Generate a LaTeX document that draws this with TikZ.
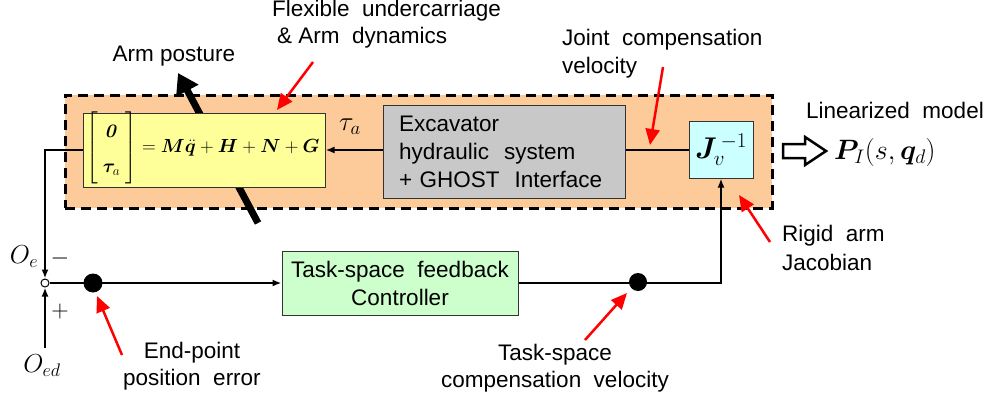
\RequirePackage{fix-cm}
\documentclass[tikz,border=0pt]{standalone}
\usepackage{amsmath,bm}
\usepackage[no-math]{fontspec}
\setmainfont{Liberation Sans}
\usetikzlibrary{arrows.meta}
\definecolor{orangebg}{RGB}{253,203,153}
\definecolor{yellowbg}{RGB}{255,255,153}
\definecolor{graybg}{RGB}{200,200,200}
\definecolor{cyanbg}{RGB}{204,255,255}
\definecolor{greenbg}{RGB}{204,255,204}
\definecolor{redarr}{RGB}{255,0,0}
\tikzset{
  blk/.style={draw=black!80, line width=1pt, inner sep=0pt},
  conn/.style={line width=2pt, draw=black},
  tip/.style={-{Latex[length=9pt,width=7pt]}},
  redarrow/.style={draw=redarr, line width=2.5pt, -{Triangle[length=16pt,width=14pt]}},
  lbl/.style={inner sep=0pt, font=\fontsize{22.5}{29}\selectfont},
  dot/.style={circle, fill=black, inner sep=0pt, minimum size=19pt}
}
\begin{document}
\begin{tikzpicture}[x=1pt,y=-1pt]
\useasboundingbox (0,0) rectangle (990,404);
\fill[white] (0,0) rectangle (990,404);

% outer dashed region
\node[fill=orangebg, draw=black, line width=3pt, dash pattern=on 10pt off 6pt,
      minimum width=707pt, minimum height=113pt, inner sep=0pt] (outer) at (418.5,151.5) {};

% thick arm posture arrow (behind yellow box)
\coordinate (postlow) at (258,223);
\coordinate (posttip) at (178,73);
\draw[line width=7pt, -{Triangle[length=20pt,width=24pt]}] (postlow) -- (posttip);

% blocks
\node[blk, fill=yellowbg, minimum width=242pt, minimum height=74pt] (yellow) at (204,150) {};
\node[inner sep=0pt, font=\fontsize{19}{23}\selectfont] (eq) at (203,148)
  {$\renewcommand{\arraystretch}{1.5}\left[\begin{array}{c}\bm{\mathit{0}}\\ \bm{\tau}_{a}\end{array}\right]=\bm{M}\ddot{\bm{q}}+\bm{H}+\bm{N}+\bm{G}$};
\node[blk, fill=graybg, minimum width=242pt, minimum height=93pt, text width=210pt, align=left,
      inner xsep=16pt, font=\fontsize{22.5}{28}\selectfont] (gray) at (504,151.5)
  {Excavator\\hydraulic\ \ system\\+ GHOST\ \ Interface};
\node[blk, fill=cyanbg, minimum width=64pt, minimum height=57pt, font=\fontsize{30}{34}\selectfont] (cyan) at (721,149.5)
  {$\bm{J}_{v}^{\,-1}$};
\node[blk, fill=greenbg, minimum width=236pt, minimum height=64pt, align=center,
      font=\fontsize{22.5}{28}\selectfont] (green) at (400,283)
  {Task-space\ \ feedback\\Controller};

% junction and dots
\node[circle, draw=black, fill=white, line width=1pt, inner sep=0pt, minimum size=8pt] (sum) at (45,283) {};
\node[dot] (dot1) at (93,283) {};
\node[dot, minimum size=18pt] (dot2) at (638,282) {};
\coordinate (oedin) at (45,348);

% connectors
\draw[conn, tip] (gray.west |- yellow.east) -- (yellow.east);
\draw[conn] (gray.east |- cyan.west) -- (cyan.west);
\draw[conn, tip] (yellow.west) -| (sum.north);
\draw[conn, tip] (oedin) -- (sum.south);
\draw[conn, tip] (sum.east) -- (green.west);
\draw[conn, tip] (green.east) -| (cyan.south);

% hollow arrow
\draw[line width=2.5pt, fill=white, line join=miter] (783,144) -- (805,144) -- (805,137) -- (826,151) -- (805,165) -- (805,158) -- (783,158) -- cycle;

% math labels
\node[lbl, font=\fontsize{27}{30}\selectfont] (taua) at (350,127) {$\tau_a$};
\node[lbl, font=\fontsize{26}{30}\selectfont] (oe) at (24,257) {$O_e$};
\node[lbl, font=\fontsize{24}{30}\selectfont] (minus) at (60,258) {$-$};
\node[lbl, font=\fontsize{24}{30}\selectfont] (plus) at (60,311) {$+$};
\node[lbl, font=\fontsize{26}{30}\selectfont] (oed) at (42,366) {$O_{ed}$};
\node[lbl, anchor=west, font=\fontsize{28}{32}\selectfont] (pmodel) at (834,152) {$\bm{P}_{I}(s,\bm{q}_{d})$};

% text labels
\node[lbl] (armpost) at (174,56) {Arm\ posture};
\node[lbl, anchor=west, align=left, font=\fontsize{22.5}{27}\selectfont] (flex) at (272,24.5)
  {Flexible\ \ undercarriage\\\hspace{5pt}\& Arm\ \ dynamics};
\node[lbl, anchor=west, align=left, font=\fontsize{22.5}{28}\selectfont] (joint) at (562,54) {Joint\ \ compensation\\velocity};
\node[lbl, anchor=west] (linmodel) at (806,110) {Linearized\ \ model};
\node[lbl, anchor=west, align=left, font=\fontsize{22.5}{29}\selectfont] (rigid) at (782,247.5) {Rigid\ \ arm\\Jacobian};
\node[lbl, align=center, font=\fontsize{22.5}{27}\selectfont] (endpt) at (192,366.5) {End-point\\position\ \ error};
\node[lbl, align=center, font=\fontsize{22.5}{27}\selectfont] (tscomp) at (555,368.5) {Task-space\\compensation\ \ velocity};

% red pointer arrows
\coordinate (r1s) at (313,62);  \coordinate (r1e) at (277,110);
\coordinate (r2s) at (663,67);  \coordinate (r2e) at (650,145);
\coordinate (r3s) at (770,242); \coordinate (r3e) at (739,195);
\coordinate (r4s) at (122,355); \coordinate (r4e) at (97,296);
\coordinate (r5s) at (585,340); \coordinate (r5e) at (627,293);
\draw[redarrow] (r1s) -- (r1e);
\draw[redarrow] (r2s) -- (r2e);
\draw[redarrow] (r3s) -- (r3e);
\draw[redarrow] (r4s) -- (r4e);
\draw[redarrow] (r5s) -- (r5e);
\end{tikzpicture}
\end{document}
